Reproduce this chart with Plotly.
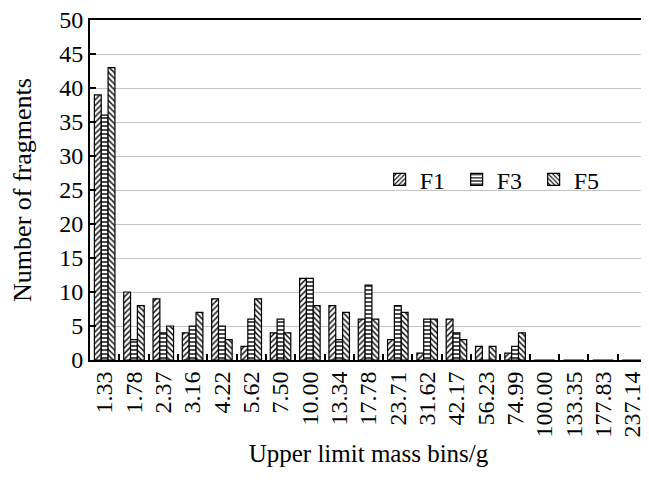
import plotly.graph_objects as go

categories = ["1.33", "1.78", "2.37", "3.16", "4.22", "5.62", "7.50", "10.00", "13.34",
              "17.78", "23.71", "31.62", "42.17", "56.23", "74.99", "100.00", "133.35",
              "177.83", "237.14"]
f1 = [39, 10, 9, 4, 9, 2, 4, 12, 8, 6, 3, 1, 6, 2, 1, 0, 0, 0, 0]
f3 = [36, 3, 4, 5, 5, 6, 6, 12, 3, 11, 8, 6, 4, 0, 2, 0, 0, 0, 0]
f5 = [43, 8, 5, 7, 3, 9, 4, 8, 7, 6, 7, 6, 3, 2, 4, 0, 0, 0, 0]

FONT = "Liberation Serif"
fig = go.Figure()
for name, vals, shape in [("F1", f1, "/"), ("F3", f3, "-"), ("F5", f5, "\\")]:
    fig.add_trace(go.Bar(
        x=categories, y=vals, name=name,
        marker=dict(color="white", line=dict(color="black", width=1.2),
                    pattern=dict(shape=shape, fgcolor="black", bgcolor="white",
                                 size=4, solidity=0.35, fillmode="replace")),
    ))

fig.update_layout(
    width=641, height=472,
    margin=dict(l=82, r=2, t=12, b=120),
    paper_bgcolor="white", plot_bgcolor="white",
    barmode="group", bargap=0.3, bargroupgap=0,
    font=dict(family=FONT, size=24, color="black"),
    showlegend=True,
    legend=dict(orientation="h", x=0.52, y=0.53, xanchor="left", yanchor="middle",
                bgcolor="rgba(0,0,0,0)", font=dict(size=24, family=FONT),
                entrywidth=32, itemwidth=30),
    xaxis=dict(type="category", tickangle=-90, showline=True, linecolor="black",
               linewidth=2, mirror=True, ticks="inside", ticklen=6, tickwidth=2,
               tickcolor="black", tickson="boundaries", showgrid=False, automargin=False,
               ticklabeloverflow="allow",
               title=dict(text="Upper limit mass bins/g", font=dict(size=25), standoff=8),
               tickfont=dict(size=24)),
    yaxis=dict(range=[0, 50], dtick=5, showline=True, linecolor="black", linewidth=2,
               mirror=False, ticks="inside", ticklen=6, tickwidth=2, tickcolor="black",
               showgrid=True, gridcolor="#c4c4c4", gridwidth=1, zeroline=False,
               automargin=False, ticklabeloverflow="allow",
               title=dict(text="Number of fragments", font=dict(size=26), standoff=22),
               tickfont=dict(size=24)),
)
fig.write_html("out.html")
